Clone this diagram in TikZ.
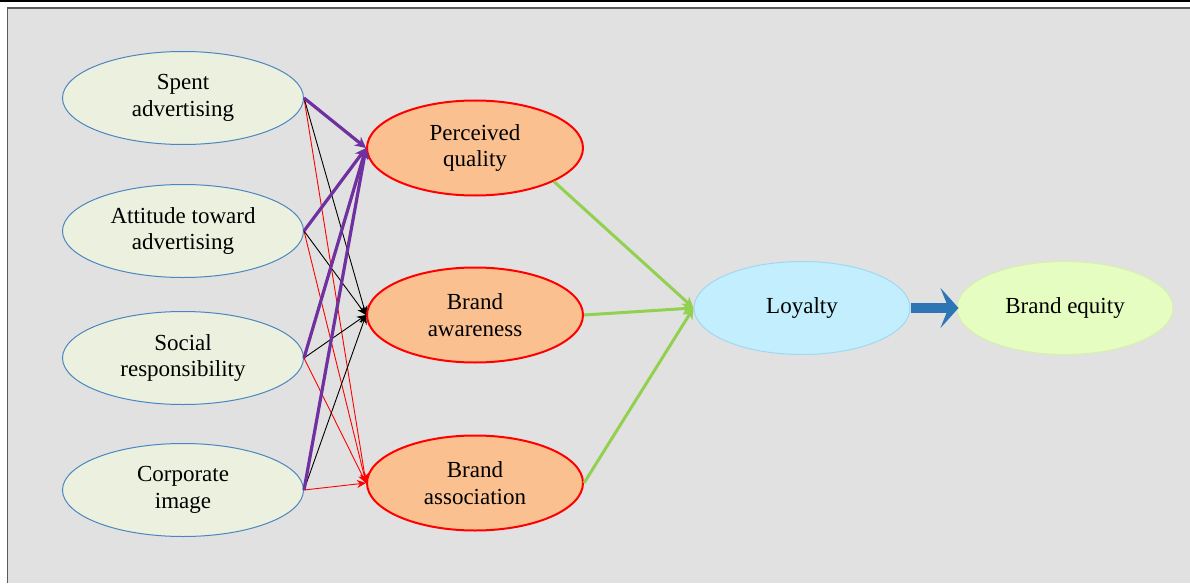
\documentclass[tikz,border=0pt]{standalone}
\usepackage{fontspec}
\setmainfont{Liberation Serif}
\usetikzlibrary{shapes.geometric,arrows.meta}
\definecolor{bg}{HTML}{E1E1E1}
\definecolor{frameg}{HTML}{5A5A5A}
\definecolor{leftfill}{HTML}{EBF1DE}
\definecolor{leftdraw}{HTML}{4A86C0}
\definecolor{midfill}{HTML}{FAC090}
\definecolor{loyfill}{HTML}{C2EEFD}
\definecolor{loydraw}{HTML}{9FD8F2}
\definecolor{eqfill}{HTML}{E6FDC2}
\definecolor{eqdraw}{HTML}{D5F2A6}
\definecolor{purp}{HTML}{7030A0}
\definecolor{grn}{HTML}{92D050}
\definecolor{blu}{HTML}{2E75B6}
\tikzset{
  box/.style={ellipse, inner sep=0pt, align=center, font=\fontsize{23}{26.5}\selectfont},
  leftbox/.style={box, minimum width=241pt, minimum height=93pt, fill=leftfill, draw=leftdraw, line width=1pt},
  midbox/.style={box, minimum width=216pt, minimum height=95pt, fill=midfill, draw=red, line width=2pt},
  loybox/.style={box, minimum width=216pt, minimum height=93pt, fill=loyfill, draw=loydraw, line width=1pt},
  eqbox/.style={box, minimum width=216pt, minimum height=93pt, fill=eqfill, draw=eqdraw, line width=1pt},
  parr/.style={draw=purp, line width=3.2pt, -{Stealth[length=11pt,width=11pt]}},
  barr/.style={draw=black, line width=0.9pt, -{Stealth[length=9pt,width=8pt]}},
  rarr/.style={draw=red, line width=0.9pt, -{Stealth[length=9pt,width=8pt]}},
  garr/.style={draw=grn, line width=3pt, -{Stealth[length=11pt,width=11pt]}},
  bigarr/.style={draw=blu, line width=10pt, -{Stealth[length=18pt,width=40pt,inset=8pt]}, shorten >=-2pt}
}
\begin{document}
\begin{tikzpicture}[x=1pt,y=-1pt]
\useasboundingbox (0,0) rectangle (1190,583);
\fill[white] (0,0) rectangle (1190,583);
\draw[black, line width=1.5pt] (0,1) -- (1190,1);
\fill[bg] (7.5,8) rectangle (1190,583);
\draw[frameg, line width=1.5pt] (7.5,583) -- (7.5,8) -- (1190,8);

\node[leftbox] (sa) at (183,98) {Spent\\advertising};
\node[leftbox] (at) at (183,231) {Attitude toward\\advertising};
\node[leftbox] (sr) at (183,358) {Social\\responsibility};
\node[leftbox] (ci) at (183,490) {Corporate\\image};

\node[midbox] (pq) at (475,148) {Perceived\\quality};
\node[midbox] (bw) at (475,315) {Brand\\awareness};
\node[midbox] (bs) at (475,483) {Brand\\association};

\node[loybox] (loy) at (802,308) {Loyalty};
\node[eqbox] (eq) at (1065,308) {Brand equity};

\foreach \s in {sa,at,sr,ci}{
  \draw[rarr] (\s.east) -- (bs.west);
  \draw[barr] (\s.east) -- (bw.west);
}
\foreach \s in {sa,at,sr,ci}{
  \draw[parr] (\s.east) -- (pq.west);
}

\draw[garr] (pq.-23) -- (loy.west);
\draw[garr] (bw.east) -- (loy.west);
\draw[garr] (bs.east) -- (loy.west);

\draw[bigarr] (loy.east) -- (eq.west);
\end{tikzpicture}
\end{document}
